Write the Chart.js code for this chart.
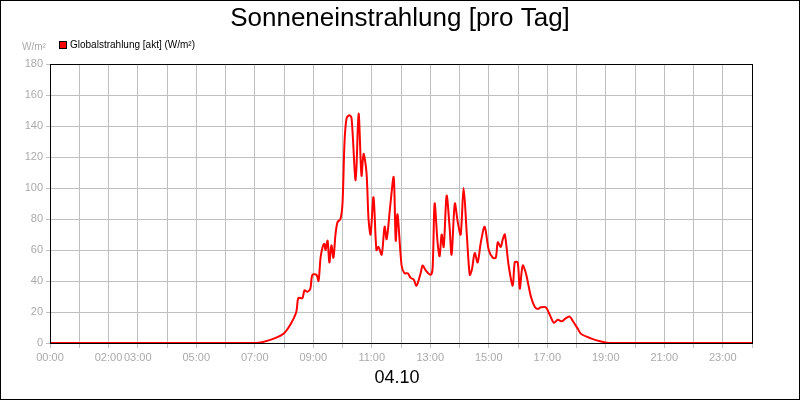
<!DOCTYPE html>
<html>
<head>
<meta charset="utf-8">
<script src="https://cdn.jsdelivr.net/npm/chart.js@4"></script>
<style>
  html, body { margin: 0; padding: 0; background: #fff; }
  #wrap { position: relative; width: 800px; height: 400px; box-sizing: border-box; border: 1px solid #000; }
</style>
</head>
<body>
<div id="wrap"><canvas id="c" width="798" height="398"></canvas></div>
<script>
// hours of day (decimal) and global radiation values in W/m²
const hours = [0, 7.02, 7.53, 7.98, 8.22, 8.42, 8.49, 8.63, 8.70, 8.80, 8.90, 8.97, 9.11, 9.18, 9.25, 9.32, 9.38, 9.42, 9.49, 9.55,
  9.62, 9.69, 9.76, 9.83, 9.93, 10.0, 10.07, 10.14, 10.24, 10.31, 10.45, 10.55, 10.65, 10.72, 10.82, 10.89, 10.96, 11.06, 11.16,
  11.23, 11.34, 11.44, 11.51, 11.64, 11.75, 11.82, 11.88, 12.02, 12.12, 12.23, 12.33, 12.43, 12.53, 12.67, 12.74, 12.84, 13.01,
  13.08, 13.15, 13.25, 13.32, 13.39, 13.46, 13.56, 13.66, 13.73, 13.84, 13.94, 14.04, 14.14, 14.25, 14.35, 14.42, 14.52, 14.62,
  14.73, 14.86, 15.0, 15.14, 15.24, 15.31, 15.41, 15.48, 15.55, 15.68, 15.82, 15.89, 15.99, 16.06, 16.16, 16.27, 16.44, 16.58,
  16.68, 16.78, 16.95, 17.09, 17.23, 17.36, 17.5, 17.64, 17.77, 17.88, 18.05, 18.15, 18.49, 18.84, 19.18, 24];
const radiation = [0, 0, 2, 6, 12, 20, 29, 29, 34, 33, 35, 44, 44, 40, 55, 62, 64, 60, 66, 52,
  63, 55, 70, 78, 80, 90, 130, 145, 147, 145, 105, 148, 108, 122, 110, 80, 70, 94, 60,
  62, 57, 75, 67, 90, 107, 66, 83, 50, 45, 45, 42, 41, 37, 45, 50, 47, 44,
  48, 90, 65, 56, 70, 62, 95, 75, 57, 90, 78, 70, 100, 70, 44, 47, 58, 52,
  65, 75, 60, 55, 55, 65, 62, 67, 70, 50, 37, 52, 52, 35, 50, 45, 30, 23,
  22, 23, 23, 18, 13, 15, 14, 16, 17, 14, 9, 6, 3, 1, 0, 0];
const labeledHours = [0, 2, 3, 5, 7, 9, 11, 13, 15, 17, 19, 21, 23];
const yTicks = [0, 20, 40, 60, 80, 100, 120, 140, 160, 180];

const FONT = '"Liberation Sans", Arial, sans-serif';

const decor = {
  id: 'decor',
  afterDraw(chart) {
    const { ctx, chartArea: a } = chart;
    ctx.save();
    ctx.strokeStyle = '#000';
    ctx.lineWidth = 1;
    ctx.strokeRect(a.left + 0.5, a.top + 0.5, a.right - a.left, a.bottom - a.top);
    ctx.fillStyle = '#000';
    ctx.textAlign = 'center';
    ctx.textBaseline = 'middle';
    ctx.font = '26px ' + FONT;
    ctx.fillText('Sonneneinstrahlung [pro Tag]', 399, 18);
    ctx.font = '18px ' + FONT;
    ctx.fillText('04.10', 396, 377);
    // legend
    ctx.fillStyle = '#ff0000';
    ctx.fillRect(58, 40, 7, 7);
    ctx.strokeStyle = '#000';
    ctx.strokeRect(58.5, 40.5, 7, 7);
    ctx.fillStyle = '#000';
    ctx.textAlign = 'left';
    ctx.font = '10px ' + FONT;
    ctx.fillText('Globalstrahlung [akt] (W/m²)', 69, 44);
    ctx.fillStyle = '#aaa';
    ctx.fillText('W/m²', 21, 46);
    ctx.restore();
  }
};

new Chart(document.getElementById('c'), {
  type: 'line',
  data: {
    datasets: [{
      data: hours.map((h, i) => ({ x: h, y: radiation[i] })),
      borderColor: '#ff0000',
      borderWidth: 2,
      pointRadius: 0,
      tension: 0.3,
      fill: false,
    }],
  },
  options: {
    responsive: false,
    animation: false,
    layout: { padding: { top: 63, right: 47, left: 0, bottom: 0 } },
    plugins: { legend: { display: false }, tooltip: { enabled: false } },
    scales: {
      x: {
        type: 'linear', min: 0, max: 24,
        afterFit: s => { s.height = 56; },
        afterBuildTicks: s => { s.ticks = Array.from({ length: 25 }, (_, i) => ({ value: i })); },
        ticks: {
          autoSkip: false, maxRotation: 0, color: '#aaa', font: { family: FONT, size: 11 },
          callback: v => labeledHours.includes(v) ? String(v).padStart(2, '0') + ':00' : '',
        },
        grid: { color: '#c0c0c0', tickLength: 5 },
        border: { color: '#000' },
      },
      y: {
        min: 0, max: 180,
        afterFit: s => { s.width = 49; },
        afterBuildTicks: s => { s.ticks = yTicks.map(v => ({ value: v })); },
        ticks: { color: '#aaa', font: { family: FONT, size: 11 }, padding: 3 },
        grid: { color: '#c0c0c0', tickLength: 4 },
        border: { color: '#000' },
      },
    },
  },
  plugins: [decor],
});
</script>
</body>
</html>
